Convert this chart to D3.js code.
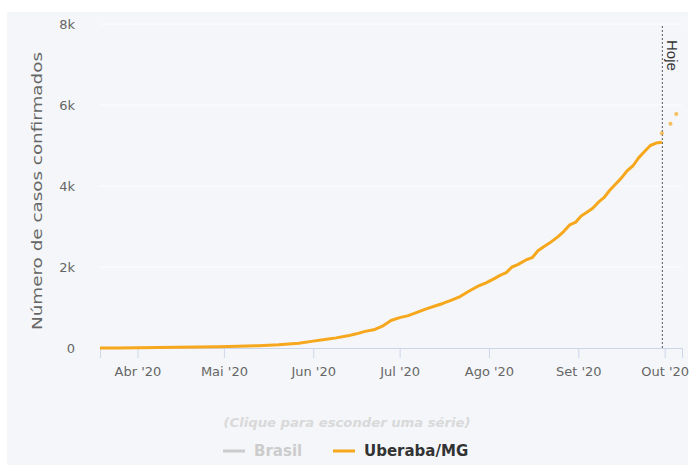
<!DOCTYPE html>
<html>
<head>
<meta charset="utf-8">
<script src="https://cdn.jsdelivr.net/npm/d3@7"></script>
<style>
  body { margin: 0; background: #fff; }
  svg { display: block; font-family: "DejaVu Sans", "Noto Sans", sans-serif; }
</style>
</head>
<body>
<svg width="691" height="465"></svg>
<script>
// The svg
var svg = d3.select("svg"),
  width = +svg.attr("width"),
  height = +svg.attr("height");

// Data
var dates = ["2020-03-19","2020-03-25","2020-04-01","2020-04-08","2020-04-15","2020-04-22","2020-04-29",
  "2020-05-06","2020-05-13","2020-05-20","2020-05-27","2020-06-01","2020-06-05","2020-06-09","2020-06-13",
  "2020-06-16","2020-06-19","2020-06-22","2020-06-25","2020-06-28","2020-07-01","2020-07-04","2020-07-07",
  "2020-07-10","2020-07-13","2020-07-16","2020-07-19","2020-07-22","2020-07-25","2020-07-28","2020-07-31",
  "2020-08-03","2020-08-05","2020-08-07","2020-08-09","2020-08-11","2020-08-14","2020-08-16","2020-08-18",
  "2020-08-20","2020-08-22","2020-08-25","2020-08-27","2020-08-29","2020-08-31","2020-09-02","2020-09-04",
  "2020-09-06","2020-09-08","2020-09-10","2020-09-12","2020-09-14","2020-09-16","2020-09-18","2020-09-20",
  "2020-09-22","2020-09-24","2020-09-26","2020-09-28","2020-09-30"];
var casos = [1,3,6,10,16,24,33,
  45,58,80,120,170,210,250,300,
  350,410,450,540,680,750,800,880,
  960,1030,1100,1180,1270,1400,1520,1610,
  1720,1800,1860,2000,2060,2180,2230,2400,
  2500,2590,2750,2880,3040,3100,3260,3350,
  3450,3600,3720,3900,4050,4200,4380,4500,
  4700,4850,5000,5060,5080];

// forecast points after today
var previsaoDates = ["2020-09-30","2020-10-03","2020-10-05"];
var previsaoCasos = [5300,5540,5780];

var hoje = "2020-09-30";
var yTicks = [0, 2000, 4000, 6000, 8000];
var yTickLabels = ["0", "2k", "4k", "6k", "8k"];
var monthNames = ["Jan","Fev","Mar","Abr","Mai","Jun","Jul","Ago","Set","Out","Nov","Dez"];

var parse = d3.timeParse("%Y-%m-%d");
var serie = dates.map(function (d, i) { return { date: parse(d), value: casos[i] }; });
var previsao = previsaoDates.map(function (d, i) { return { date: parse(d), value: previsaoCasos[i] }; });

var orange = "#f6a71c";

// background panel
svg.append("rect")
  .attr("x", 7).attr("y", 12)
  .attr("width", width - 10).attr("height", height - 12)
  .attr("fill", "#f4f6f9");

// scales
var x = d3.scaleTime()
  .domain([parse("2020-03-19"), parse("2020-10-07")])
  .range([100, 682]);
var y = d3.scaleLinear()
  .domain([0, 8000])
  .range([348, 24]);

// grid lines
svg.append("g")
  .selectAll("line")
  .data(yTicks.slice(1))
  .enter().append("line")
  .attr("x1", 100).attr("x2", 682)
  .attr("y1", function (d) { return y(d); })
  .attr("y2", function (d) { return y(d); })
  .attr("stroke", "#fcfdfe")
  .attr("stroke-width", 1);

// y axis labels
svg.append("g")
  .selectAll("text")
  .data(yTicks)
  .enter().append("text")
  .attr("x", 75)
  .attr("y", function (d) { return y(d); })
  .attr("dy", "0.35em")
  .attr("text-anchor", "end")
  .attr("fill", "#666")
  .style("font-size", "13px")
  .text(function (d, i) { return yTickLabels[i]; });

svg.append("text")
  .attr("transform", "translate(42,191) rotate(-90)")
  .attr("text-anchor", "middle")
  .attr("fill", "#666")
  .attr("textLength", 278)
  .attr("lengthAdjust", "spacingAndGlyphs")
  .style("font-size", "14px")
  .text("Número de casos confirmados");

// x axis
var xAxis = d3.axisBottom(x)
  .ticks(d3.timeMonth.every(1))
  .tickSize(10)
  .tickPadding(9)
  .tickFormat(function (d) {
    return monthNames[d.getMonth()] + " '" + d3.timeFormat("%y")(d);
  });
var gx = svg.append("g")
  .attr("transform", "translate(0,348)")
  .call(xAxis);
gx.select(".domain").attr("stroke", "#ccd6eb");
gx.selectAll(".tick line").attr("stroke", "#ccd6eb");
gx.selectAll(".tick text")
  .attr("fill", "#666")
  .style("font-size", "13px")
  .style("font-family", "\"DejaVu Sans\", sans-serif");

// Hoje line
svg.append("line")
  .attr("x1", x(parse(hoje)) + 0.5).attr("x2", x(parse(hoje)) + 0.5)
  .attr("y1", 26).attr("y2", 348)
  .attr("stroke", "#555")
  .attr("stroke-width", 1)
  .attr("stroke-dasharray", "2,2");
svg.append("text")
  .attr("transform", "translate(" + (x(parse(hoje)) + 5) + ",40) rotate(90)")
  .attr("fill", "#333")
  .style("font-size", "15px")
  .style("font-family", "Arial, \"Liberation Sans\", sans-serif")
  .text("Hoje");

// the line
var line = d3.line()
  .x(function (d) { return x(d.date); })
  .y(function (d) { return y(d.value); });
svg.append("path")
  .datum(serie)
  .attr("fill", "none")
  .attr("stroke", orange)
  .attr("stroke-width", 3)
  .attr("stroke-linejoin", "round")
  .attr("d", line);

svg.append("g")
  .selectAll("circle")
  .data(previsao)
  .enter().append("circle")
  .attr("cx", function (d) { return x(d.date); })
  .attr("cy", function (d) { return y(d.value); })
  .attr("r", 2)
  .attr("fill", orange)
  .attr("opacity", 0.7);

// Legend
svg.append("text")
  .attr("x", 347).attr("y", 427)
  .attr("text-anchor", "middle")
  .attr("fill", "#d9d9d9")
  .attr("textLength", 247)
  .attr("lengthAdjust", "spacingAndGlyphs")
  .style("font-size", "12px")
  .style("font-style", "italic")
  .style("font-weight", "bold")
  .text("(Clique para esconder uma série)");

var legendItems = [
  { name: "Brasil", x: 223, color: "#cccccc", text: "#cccccc" },
  { name: "Uberaba/MG", x: 333, color: orange, text: "#333333" }
];
var lg = svg.append("g").selectAll("g")
  .data(legendItems)
  .enter().append("g")
  .attr("transform", function (d) { return "translate(" + d.x + ",451)"; });
lg.append("line")
  .attr("x1", 0).attr("x2", 22)
  .attr("stroke", function (d) { return d.color; })
  .attr("stroke-width", 3);
lg.append("text")
  .attr("x", 31)
  .attr("dy", "0.35em")
  .attr("fill", function (d) { return d.text; })
  .style("font-size", "15px")
  .style("font-weight", "bold")
  .text(function (d) { return d.name; });
</script>
</body>
</html>
